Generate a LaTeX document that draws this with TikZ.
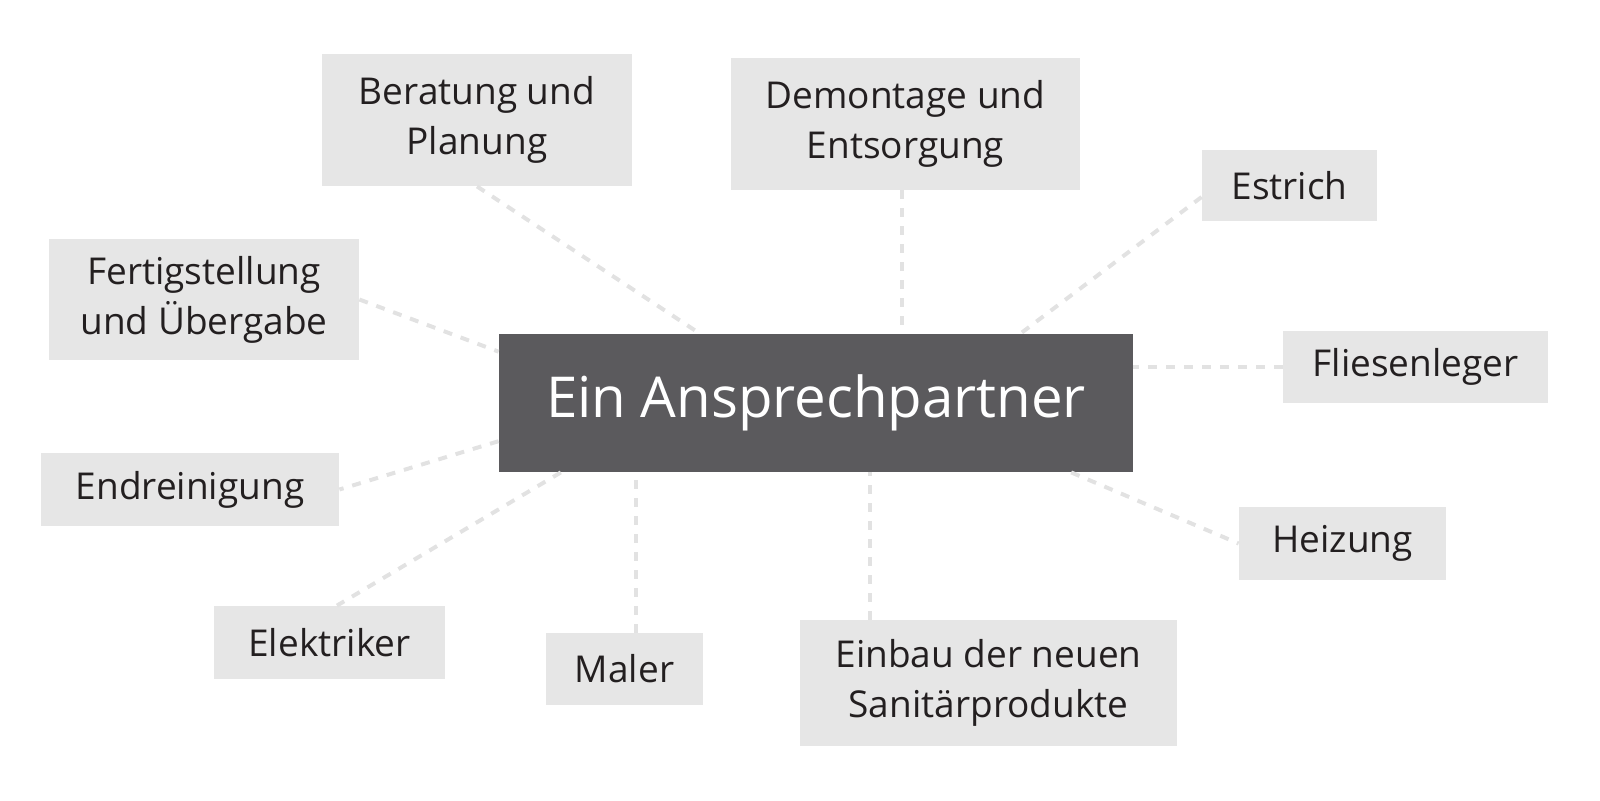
\documentclass[tikz,border=0pt]{standalone}
\usepackage{fontspec}
\setmainfont{Open Sans}
\usetikzlibrary{calc}

\definecolor{boxgray}{HTML}{E6E6E6}
\definecolor{hubgray}{HTML}{5B5A5D}
\definecolor{inkblack}{HTML}{231F20}
\definecolor{linkgray}{HTML}{E2E2E2}

\begin{document}
\begin{tikzpicture}[
		x=0.5pt, y=-0.5pt,
		hub/.style={fill=hubgray, text=white, inner sep=0pt, font=\fontsize{28.2}{34}\selectfont},
		task/.style={fill=boxgray, text=inkblack, inner sep=0pt, align=center, font=\fontsize{18.5}{25}\selectfont},
		link/.style={linkgray, line width=2pt, dash pattern=on 4.5pt off 4.5pt}
		]
		
		\useasboundingbox (0,0) rectangle (1600,800);
		
		% ---------------------------------------------------------
		% Center
		% ---------------------------------------------------------
		\node[hub, minimum width=317pt, minimum height=69pt] (hub) at (816,403) {Ein Ansprechpartner};
		
		% ---------------------------------------------------------
		% Surrounding tasks (clockwise from top left)
		% ---------------------------------------------------------
		\node[task, minimum width=155pt, minimum height=66pt] (beratung) at (477,120) {Beratung und\\Planung};
		\node[task, minimum width=174.5pt, minimum height=66pt] (demontage) at (905.5,124) {Demontage und\\Entsorgung};
		\node[task, minimum width=87.5pt, minimum height=35.5pt] (estrich) at (1289.5,185.5) {Estrich};
		\node[task, minimum width=132.5pt, minimum height=36pt] (fliesen) at (1415.5,367) {Fliesenleger};
		\node[task, minimum width=103.5pt, minimum height=36.5pt] (heizung) at (1342.5,543.5) {Heizung};
		\node[task, minimum width=188.5pt, minimum height=63pt] (einbau) at (988.5,683) {Einbau der neuen\\Sanitärprodukte};
		\node[task, minimum width=78.5pt, minimum height=36pt] (maler) at (624.5,669) {Maler};
		\node[task, minimum width=115.5pt, minimum height=36.5pt] (elektriker) at (329.5,642.5) {Elektriker};
		\node[task, minimum width=149pt, minimum height=36.5pt] (endreinigung) at (190,489.5) {Endreinigung};
		\node[task, minimum width=155pt, minimum height=60.5pt] (fertig) at (204,299.5) {Fertigstellung\\und Übergabe};
		
		% ---------------------------------------------------------
		% Dashed links to the center
		% ---------------------------------------------------------
		\draw[link] (beratung.south) -- ($(hub.north west)!0.317!(hub.north east)$);
		\draw[link] ($(demontage.south west)!0.49!(demontage.south east)$) coordinate (demontagefoot) -- (demontagefoot |- hub.north);
		\draw[link] ($(estrich.north west)!0.66!(estrich.south west)$) -- ($(hub.north west)!0.822!(hub.north east)$);
		\draw[link] (fliesen.west) -- (fliesen.west -| hub.east);
		\draw[link] ($(hub.south west)!0.902!(hub.south east)$) -- (heizung.west);
		\draw[link] ($(einbau.north west)!0.186!(einbau.north east)$) coordinate (einbautop) -- (einbautop |- hub.south);
		\draw[link] ($(maler.north west)!0.57!(maler.north east)$) coordinate (malertop) -- (malertop |- hub.south);
		\draw[link] ($(hub.south west)!0.098!(hub.south east)$) -- ($(elektriker.north west)!0.532!(elektriker.north east)$);
		\draw[link] ($(hub.north west)!0.775!(hub.south west)$) -- (endreinigung.east);
		\draw[link] (fertig.east) -- ($(hub.north west)!0.13!(hub.south west)$);
		
	\end{tikzpicture}
\end{document}
